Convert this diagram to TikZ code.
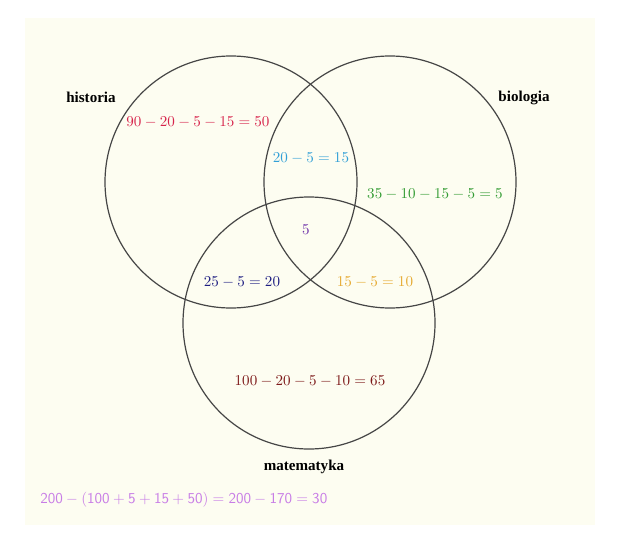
\documentclass[tikz,border=0pt]{standalone}
\usepackage{fontspec}
\newfontfamily\labelfont{Liberation Serif}
\definecolor{bgyellow}{RGB}{253,253,241}
\definecolor{circgray}{RGB}{70,70,70}
\definecolor{cHist}{RGB}{215,35,75}
\definecolor{cHB}{RGB}{50,160,215}
\definecolor{cBio}{RGB}{50,155,50}
\definecolor{cAll}{RGB}{110,50,170}
\definecolor{cHM}{RGB}{30,30,130}
\definecolor{cBM}{RGB}{230,170,50}
\definecolor{cMat}{RGB}{125,25,25}
\definecolor{cRest}{RGB}{200,125,230}
\tikzset{
  setcircle/.style={draw=circgray, line width=0.8pt, circle, minimum size=252pt*0.664, inner sep=0pt},
  setname/.style={font=\labelfont\bfseries, text=black},
  region/.style={inner sep=0pt}
}
\begin{document}
\begin{tikzpicture}[x=0.664pt,y=-0.664pt]
\useasboundingbox (0,0) rectangle (621,547);
\fill[bgyellow] (25,18) rectangle (595,525);
\node[setcircle] (H) at (231,182) {};
\node[setcircle] (B) at (390,182) {};
\node[setcircle] (M) at (309,323) {};
\node[setname] (hl) at (91,97) {historia};
\node[setname] (bl) at (524,98) {biologia};
\node[setname] (ml) at (304,467) {matematyka};
\node[region, text=cHist] (rh) at (198,122) {$90-20-5-15=50$};
\node[region, text=cHB] (rhb) at (311,158) {$20-5=15$};
\node[region, text=cBio] (rb) at (435,194) {$35-10-15-5=5$};
\node[region, text=cAll] (rall) at (306,230) {$5$};
\node[region, text=cHM] (rhm) at (242,282) {$25-5=20$};
\node[region, text=cBM] (rbm) at (375,282) {$15-5=10$};
\node[region, text=cMat] (rm) at (310,381) {$100-20-5-10=65$};
\node[region, text=cRest, anchor=west] (rest) at (40,500) {$\mathsf{200-(100+5+15+50)=200-170=30}$};
\end{tikzpicture}
\end{document}
